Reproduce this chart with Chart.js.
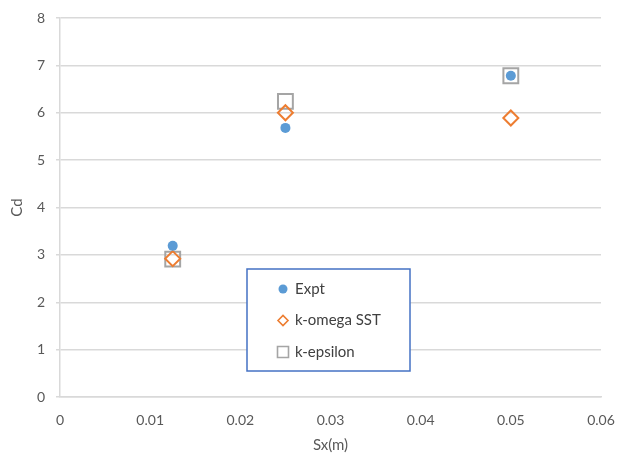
<!DOCTYPE html>
<html>
<head>
<meta charset="utf-8">
<script src="https://cdn.jsdelivr.net/npm/chart.js@4/dist/chart.umd.min.js"></script>
<style>
  html, body { margin: 0; padding: 0; background: #fff; }
  #wrap { width: 619px; height: 458px; position: relative; }
</style>
</head>
<body>
<div id="wrap"><canvas id="cdChart"></canvas></div>
<script>
const sxValues = [0.0125, 0.025, 0.05];
const cdExpt = [3.19, 5.68, 6.78];
const cdKOmega = [2.92, 6.0, 5.89];
const cdKEpsilon = [2.91, 6.24, 6.78];
const xTicks = [0, 0.01, 0.02, 0.03, 0.04, 0.05, 0.06];
const yTicks = [0, 1, 2, 3, 4, 5, 6, 7, 8];
const seriesNames = ['Expt', 'k-omega SST', 'k-epsilon'];

const FONT = 'Lato, "Open Sans", sans-serif';
const TEXT = '#595959';

function pontos(ys) {
    return sxValues.map((x, i) => ({ x: x, y: ys[i] }));
}

const datasets = [
    { label: seriesNames[0], data: pontos(cdExpt), pointStyle: 'circle', pointRadius: 5,
      backgroundColor: '#5B9BD5', borderColor: '#5B9BD5', borderWidth: 0 },
    { label: seriesNames[1], data: pontos(cdKOmega), pointStyle: 'rectRot', pointRadius: 7.5,
      backgroundColor: 'rgba(0,0,0,0)', borderColor: '#ED7D31', borderWidth: 2 },
    { label: seriesNames[2], data: pontos(cdKEpsilon), pointStyle: 'rect', pointRadius: 10.5,
      backgroundColor: 'rgba(0,0,0,0)', borderColor: '#A5A5A5', borderWidth: 2 }
];

// legenda desenhada dentro da área do gráfico, como no original
const legendaBox = {
    id: 'legendaBox',
    afterDraw(chart) {
        const ctx = chart.ctx;
        const bx = 247, by = 269, bw = 163, bh = 102;
        ctx.save();
        ctx.fillStyle = '#fff';
        ctx.fillRect(bx, by, bw, bh);
        ctx.strokeStyle = '#4472C4';
        ctx.lineWidth = 1.5;
        ctx.strokeRect(bx, by, bw, bh);
        const sizes = [4.5, 5, 7];
        chart.data.datasets.forEach((ds, i) => {
            const cy = by + 20 + i * 31.5;
            const cx = 283;
            const r = sizes[i];
            ctx.save();
            ctx.beginPath();
            ctx.fillStyle = ds.backgroundColor;
            ctx.strokeStyle = ds.borderColor;
            ctx.lineWidth = i === 0 ? 1 : 1.6;
            if (ds.pointStyle === 'circle') {
                ctx.arc(cx, cy, r, 0, Math.PI * 2);
                ctx.fill();
            } else if (ds.pointStyle === 'rectRot') {
                ctx.moveTo(cx - r, cy); ctx.lineTo(cx, cy - r);
                ctx.lineTo(cx + r, cy); ctx.lineTo(cx, cy + r);
                ctx.closePath();
                ctx.stroke();
            } else {
                ctx.rect(cx - r + 1.5, cy - r + 1.5, 2 * r - 3, 2 * r - 3);
                ctx.stroke();
            }
            ctx.restore();
            ctx.fillStyle = '#404040';
            ctx.font = '15px ' + FONT;
            ctx.textBaseline = 'middle';
            ctx.textAlign = 'left';
            ctx.fillText(ds.label, 295, cy);
        });
        ctx.restore();
    }
};

new Chart(document.getElementById('cdChart'), {
    type: 'scatter',
    data: { datasets: datasets },
    plugins: [legendaBox],
    options: {
        responsive: true,
        maintainAspectRatio: false,
        animation: false,
        layout: { padding: { top: 18, right: 18, left: 0, bottom: 0 } },
        plugins: { legend: { display: false }, tooltip: { enabled: false } },
        scales: {
            x: {
                type: 'linear', min: 0, max: 0.06,
                afterBuildTicks: s => { s.ticks = xTicks.map(v => ({ value: v })); },
                afterFit: s => { s.height = 61; s.paddingLeft = 0; s.paddingRight = 0; },
                grid: { display: false, drawTicks: false },
                border: { color: '#D9D9D9', width: 1.5 },
                ticks: { color: TEXT, font: { family: FONT, size: 14 }, padding: 15,
                         maxRotation: 0, callback: v => String(v) },
                title: { display: true, text: 'Sx(m)', color: TEXT,
                         font: { family: FONT, size: 15 }, padding: { top: 2 } }
            },
            y: {
                type: 'linear', min: 0, max: 8,
                afterBuildTicks: s => { s.ticks = yTicks.map(v => ({ value: v })); },
                afterFit: s => { s.width = 60; s.paddingTop = 0; s.paddingBottom = 0; },
                grid: { color: '#D9D9D9', lineWidth: 1.5, tickLength: 4, tickColor: '#D9D9D9' },
                border: { color: '#D9D9D9', width: 1.5 },
                ticks: { color: TEXT, font: { family: FONT, size: 14 }, padding: 11 },
                title: { display: true, text: 'Cd', color: TEXT,
                         font: { family: FONT, size: 15 }, padding: { top: 8, bottom: 2 } }
            }
        }
    }
});
</script>
</body>
</html>
